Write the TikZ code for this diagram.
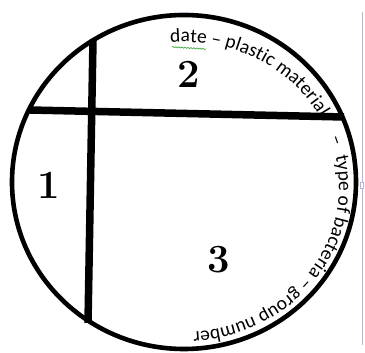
\documentclass[tikz,border=0pt]{standalone}
\usepackage{fontspec}
\setsansfont{Carlito}
\usetikzlibrary{decorations.text,decorations.pathmorphing}

\begin{document}
\begin{tikzpicture}[
    x=1pt, y=1pt,
    rim/.style={line width=4.6pt},
    bar/.style={line width=7.5pt},
    sector/.style={font=\fontsize{40}{42}\selectfont\bfseries},
    frame/.style={draw=blue!30!gray!45, line width=0.7pt},
    underline/.style={draw=green!55!black!70, line width=0.8pt, decorate, decoration={snake, amplitude=0.5pt, segment length=3pt}}
]
\useasboundingbox (-184,-171) rectangle (181,182);
% dish and dividing bars
\draw[rim] (0,0) ellipse [x radius=172, y radius=167];
\coordinate (hleft) at (-154,72);
\coordinate (hright) at (160,65);
\coordinate (vtop) at (-91,142);
\coordinate (vbottom) at (-96,-141);
\draw[bar] (hleft) -- (hright);
\draw[bar] (vtop) -- (vbottom);
\node[sector] (one) at (-135,-3) {1};
\node[sector] (two) at (5,108) {2};
\node[sector] (three) at (35,-78) {3};
% label along the rim
\path[decorate, decoration={text along path, text align=left,
    text={|\sffamily\fontsize{19.5}{21}\selectfont|date – plastic material{\kern18pt} – {\kern6pt}type of bacteria – group number}}]
  ([yshift=-5]95:155 and 145) arc[start angle=95, end angle=-100, x radius=155, y radius=145];
\coordinate (datel) at (-12,135);
\coordinate (dater) at (22,133);
\draw[underline] (datel) -- (dater);
% text box edge
\coordinate (boxtop) at (178,170);
\coordinate (boxbottom) at (178,-163);
\coordinate (tickl) at (-4,170);
\coordinate (tickr) at (3,170);
\draw[frame] (boxtop) -- (boxbottom);
\draw[frame] (tickl) -- (tickr);
\node[frame, fill=white, minimum width=3pt, minimum height=6pt, inner sep=0pt] (handle) at (178,-3) {};
\end{tikzpicture}
\end{document}
